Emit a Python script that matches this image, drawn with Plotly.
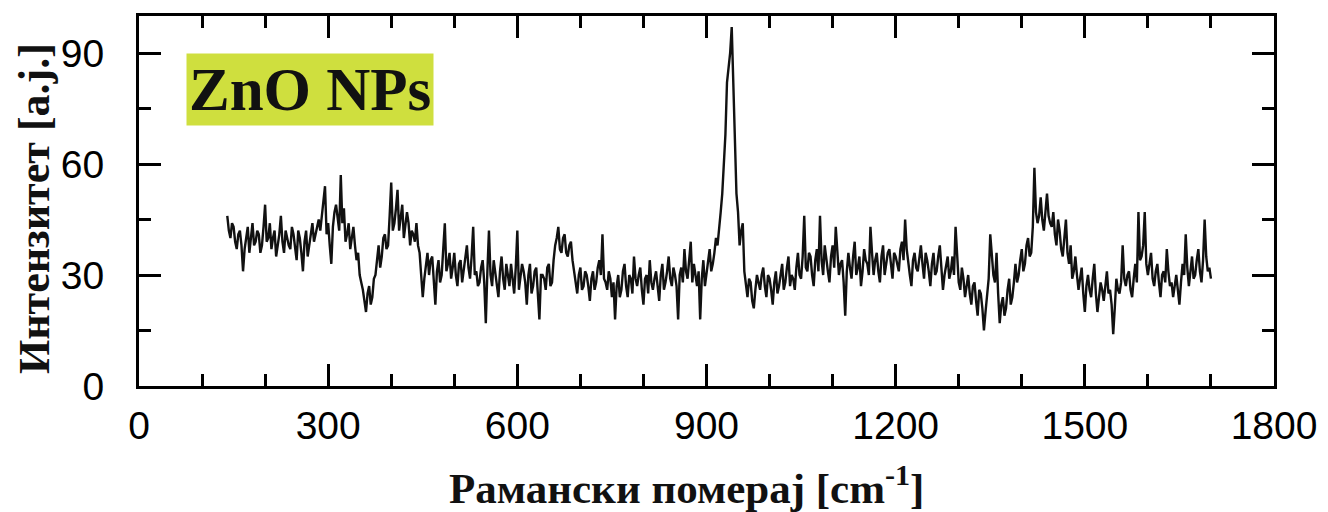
import numpy as np
import plotly.graph_objects as go

# Raman spectrum: samples every 5 cm^-1 starting at 140 cm^-1 ...
shift_start = 140
shift_step = 5
intensity = [
    46, 40, 43, 37, 42, 31, 40, 36, 44, 39,
    41, 38, 49, 40, 37, 42, 38, 46, 36, 40,
    37, 41, 34, 40, 31, 42, 38, 44, 41, 45,
    46, 54, 44, 33, 47, 45, 57, 48, 41, 37,
    43, 34, 30, 26, 20, 27, 24, 30, 38, 35,
    41, 38, 55, 44, 53, 45, 40, 47, 38, 41,
    44, 36, 24, 33, 30, 35, 22, 34, 30, 44,
    33, 29, 36, 27, 34, 31, 38, 29, 43, 31,
    28, 34, 17, 42, 27, 31, 24, 35, 26, 30,
    33, 25, 42, 29, 31, 22, 33, 27, 32, 18,
    30, 26, 33, 28, 38, 43, 36, 41, 35, 39,
    31, 25, 32, 27, 30, 23, 31, 28, 34, 41,
    28, 31, 24, 18, 30, 26, 33, 24, 29, 35,
    27, 32, 22, 30, 34, 26, 31, 23, 33, 28,
    35, 27, 30, 18, 32, 37, 29, 39, 33, 27,
    18, 34, 30, 37, 33, 40, 42, 52, 68, 86,
    97, 62, 47, 42, 31, 24, 28, 21, 30, 26,
    32, 24, 29, 22, 31, 27, 33, 28, 35, 30,
    26, 36, 29, 46, 31, 35, 27, 37, 46, 30,
    34, 28, 38, 43, 30, 34, 19, 36, 29, 39,
    32, 27, 37, 33, 43, 30, 36, 28, 38, 33,
    37, 29, 35, 31, 39, 45, 33, 27, 36, 31,
    38, 29, 34, 27, 36, 31, 38, 26, 33, 29,
    35, 43, 28, 32, 24, 30, 22, 28, 19, 25,
    15, 24, 41, 30, 36, 17, 24, 21, 29, 24,
    33, 30, 37, 33, 40, 36, 59, 44, 51, 42,
    52, 44, 47, 38, 42, 35, 45, 33, 29, 35,
    26, 32, 20, 30, 24, 33, 20, 28, 23, 31,
    26, 14, 29, 25, 38, 27, 31, 24, 33, 47,
    35, 47, 30, 36, 27, 33, 24, 31, 37, 27,
    24, 30, 22, 33, 41, 27, 35, 30, 37, 28,
    45, 31, 29,
]
# ... and the samples lying halfway between them (142.5, 147.5, ... cm^-1)
intensity_mid = [
    42, 44, 39, 41, 38, 37, 43, 41, 38, 42,
    36, 43, 39, 44, 40, 35, 41, 39, 42, 38,
    43, 37, 42, 36, 39, 35, 42, 39, 43, 42,
    49, 41, 38, 43, 49, 42, 44, 39, 44, 40,
    38, 36, 28, 23, 25, 22, 29, 34, 32, 40,
    37, 46, 42, 48, 42, 49, 43, 44, 42, 39,
    38, 30, 29, 36, 34, 28, 31, 28, 37, 31,
    36, 32, 30, 33, 28, 35, 32, 35, 30, 27,
    32, 28, 31, 30, 34, 27, 31, 29, 33, 27,
    28, 32, 26, 33, 28, 30, 25, 31, 26, 30,
    29, 32, 27, 34, 40, 37, 40, 36, 38, 34,
    28, 30, 26, 31, 27, 29, 26, 32, 30, 29,
    26, 29, 28, 27, 24, 31, 27, 30, 25, 29,
    30, 26, 29, 25, 28, 29, 27, 30, 26, 31,
    29, 32, 27, 30, 28, 31, 34, 28, 30, 31,
    29, 27, 33, 31, 36, 38, 47, 60, 82, 90,
    80, 52, 38, 44, 27, 29, 23, 26, 28, 30,
    27, 30, 26, 28, 25, 30, 26, 32, 27, 29,
    32, 30, 35, 32, 36, 30, 34, 31, 34, 38,
    31, 35, 32, 36, 33, 28, 31, 32, 35, 30,
    35, 31, 34, 30, 36, 34, 31, 35, 30, 36,
    32, 36, 33, 37, 34, 37, 30, 34, 32, 35,
    33, 36, 31, 33, 30, 35, 32, 30, 35, 31,
    30, 34, 26, 29, 27, 25, 27, 23, 26, 21,
    20, 29, 34, 28, 25, 22, 19, 26, 22, 28,
    28, 34, 31, 38, 35, 43, 47, 46, 45, 47,
    46, 43, 41, 45, 37, 40, 36, 38, 31, 30,
    29, 25, 27, 26, 29, 25, 24, 26, 27, 25,
    22, 21, 26, 28, 29, 30, 26, 29, 28, 34,
    38, 33, 33, 29, 31, 28, 30, 28, 31, 28,
    27, 26, 28, 30, 32, 31, 29, 34, 31, 34,
    35, 32,
]

x_ticks = [0, 300, 600, 900, 1200, 1500, 1800]
x_minor = [100, 200, 400, 500, 700, 800, 1000, 1100, 1300, 1400, 1600, 1700]
y_ticks = [0, 30, 60, 90]
y_minor = [15, 45, 75]

x_title = "Рамански померај [cm<sup>-1</sup>]"
y_title = "Интензитет [a.j.]"
label_text = "ZnO NPs"

# interleave the two sample sets into one spectrum
y_all = []
for i, v in enumerate(intensity):
    y_all.append(v)
    if i < len(intensity_mid):
        y_all.append(intensity_mid[i])
x_all = shift_start + (shift_step / 2) * np.arange(len(y_all))

fig = go.Figure()
fig.add_trace(go.Scatter(
    x=x_all, y=y_all, mode="lines",
    line=dict(color="#111111", width=2.4),
    showlegend=False,
))

axis_common = dict(
    showline=True, linecolor="black", linewidth=3, mirror="ticks",
    ticks="inside", ticklen=22, tickwidth=3, tickcolor="black",
    showgrid=False, zeroline=False, automargin=False,
    tickfont=dict(family="Liberation Sans, Arial", size=39, color="black"),
)

fig.update_xaxes(
    range=[0, 1800], tickvals=x_ticks, ticktext=[str(v) for v in x_ticks],
    minor=dict(tickvals=x_minor, ticks="inside",
               ticklen=12, tickwidth=3, tickcolor="black"),
    ticklabelstandoff=3,
    **axis_common,
)
fig.update_yaxes(
    range=[0, 100], tickvals=y_ticks, ticktext=[str(v) for v in y_ticks],
    minor=dict(tickvals=y_minor, ticks="inside",
               ticklen=12, tickwidth=3, tickcolor="black"),
    ticklabelstandoff=24,
    **axis_common,
)

# the page body has an 8 px margin, so the figure is sized/margined to land
# the plot frame at the same place as in the reference
fig.update_layout(
    width=1320, height=504,
    margin=dict(l=131, r=54, t=8, b=126),
    plot_bgcolor="white", paper_bgcolor="white",
    annotations=[
        dict(text="<b>" + label_text + "</b>", xref="paper", yref="paper",
             x=0.0414, y=0.9, xanchor="left", yanchor="top", showarrow=False,
             bgcolor="#cfdf3e", borderpad=2,
             font=dict(family="Liberation Serif, Times New Roman", size=61, color="#111111")),
        dict(text="<b>" + x_title + "</b>", xref="paper", yref="paper",
             x=0.482, y=-0.19, xanchor="center", yanchor="top", showarrow=False,
             font=dict(family="Liberation Serif, Times New Roman", size=43, color="#111111")),
        dict(text="<b>" + y_title + "</b>", xref="paper", yref="paper",
             x=-0.092, y=0.48, xanchor="center", yanchor="middle", showarrow=False,
             textangle=-90,
             font=dict(family="Liberation Serif, Times New Roman", size=44, color="#111111")),
    ],
)

fig.write_html("out.html")
